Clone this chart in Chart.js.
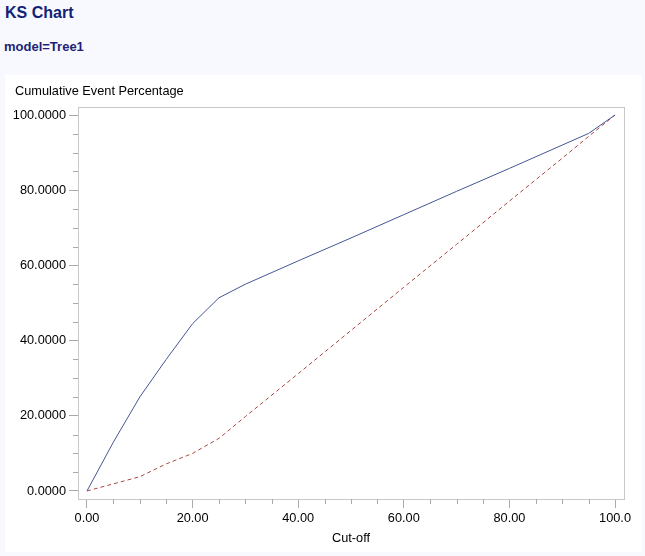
<!DOCTYPE html>
<html>
<head>
<meta charset="utf-8">
<script src="https://cdn.jsdelivr.net/npm/chart.js@4.4.0/dist/chart.umd.min.js"></script>
<style>
  body { margin: 0; background: #f8f9fe; font-family: "Liberation Sans", Arial, sans-serif; }
  #title { position: absolute; left: 5px; top: 4px; font-size: 16px; font-weight: bold; color: #112277; }
  #byline { position: absolute; left: 4px; top: 39px; font-size: 13px; font-weight: bold; color: #221f77; }
  #panel { position: absolute; left: 5px; top: 75px; width: 637px; height: 477px; background: #fff; }
  #ylabel { position: absolute; left: 10px; top: 8px; font-size: 12.75px; color: #000; }
  #wrap { position: absolute; left: 0; top: 0; width: 637px; height: 477px; }
</style>
</head>
<body>
<div id="title">KS Chart</div>
<div id="byline">model=Tree1</div>
<div id="panel">
  <div id="wrap"><canvas id="ks"></canvas></div>
  <div id="ylabel">Cumulative Event Percentage</div>
</div>
<script>
const cutoff = [0, 5, 10, 15, 20, 25, 30, 40, 50, 60, 70, 80, 90, 95, 100];
const modelPct = [0, 13, 25, 35, 44.5, 51.4, 55, 61.2, 67.3, 73.5, 79.7, 85.8, 92, 95.1, 100];
const randomPct = [0, 1.9, 3.8, 7.2, 10, 14, 19.8, 31.2, 42.7, 54.2, 65.6, 77.1, 88.5, 94.3, 100];
const xMajor = [0, 20, 40, 60, 80, 100];
const yMajor = [0, 20, 40, 60, 80, 100];

function toPoints(ys) {
  return cutoff.map((x, i) => ({x: x, y: ys[i]}));
}

// frame around plot area and minor ticks
const framePlugin = {
  id: 'frame',
  afterDraw(chart) {
    const ctx = chart.ctx;
    const a = chart.chartArea;
    const xs = chart.scales.x, ys = chart.scales.y;
    ctx.save();
    ctx.strokeStyle = '#c8c8c8';
    ctx.lineWidth = 1;
    ctx.strokeRect(Math.round(a.left) + 0.5, Math.round(a.top) + 0.5, Math.round(a.right - a.left), Math.round(a.bottom - a.top));
    ctx.strokeStyle = '#aaaaaa';
    ctx.beginPath();
    for (let v = 5; v < 100; v += 5) {
      if (v % 20 === 0) continue;
      const px = Math.round(xs.getPixelForValue(v)) + 0.5;
      ctx.moveTo(px, a.bottom);
      ctx.lineTo(px, a.bottom + 5);
      const py = Math.round(ys.getPixelForValue(v)) + 0.5;
      ctx.moveTo(a.left, py);
      ctx.lineTo(a.left - 5, py);
    }
    ctx.stroke();
    ctx.restore();
  }
};

const tickFont = {family: '"Liberation Sans", Arial, sans-serif', size: 12.75};

new Chart(document.getElementById('ks'), {
  type: 'line',
  data: {
    datasets: [{
      label: 'Model',
      data: toPoints(modelPct),
      borderColor: '#445694',
      borderWidth: 1,
      pointRadius: 0,
      tension: 0
    }, {
      label: 'Random',
      data: toPoints(randomPct),
      borderColor: '#a84a40',
      borderWidth: 1,
      borderDash: [4, 3],
      pointRadius: 0,
      tension: 0
    }]
  },
  options: {
    responsive: true,
    maintainAspectRatio: false,
    animation: false,
    layout: {padding: {left: 0, right: 18, top: 32, bottom: 0}},
    plugins: {legend: {display: false}, tooltip: {enabled: false}},
    scales: {
      x: {
        type: 'linear',
        min: -1.7,
        max: 101.7,
        afterBuildTicks: s => { s.ticks = xMajor.map(v => ({value: v})); },
        afterFit: s => { s.height = 53; },
        grid: {drawOnChartArea: false, tickLength: 9, color: '#aaaaaa'},
        border: {display: false},
        ticks: {
          font: tickFont, color: '#000', padding: 3, maxRotation: 0,
          callback: v => v === 100 ? '100.0' : v.toFixed(2)
        },
        title: {display: true, text: 'Cut-off', font: tickFont, color: '#000', padding: {top: 0, bottom: 6}}
      },
      y: {
        min: -2.13,
        max: 102.13,
        afterBuildTicks: s => { s.ticks = yMajor.map(v => ({value: v})); },
        afterFit: s => { s.width = 73; },
        grid: {drawOnChartArea: false, tickLength: 9, color: '#aaaaaa'},
        border: {display: false},
        ticks: {font: tickFont, color: '#000', padding: 3, callback: v => v.toFixed(4)}
      }
    }
  },
  plugins: [framePlugin]
});
</script>
</body>
</html>
